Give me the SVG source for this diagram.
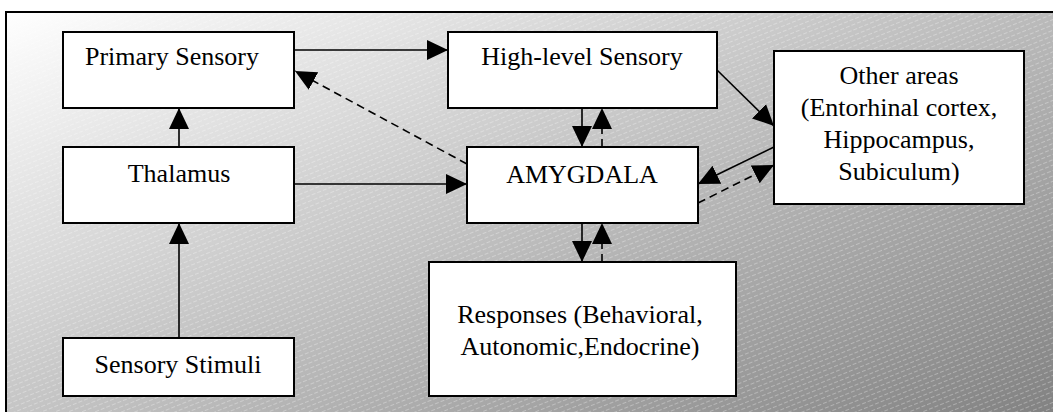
<svg xmlns="http://www.w3.org/2000/svg" width="1053" height="412" viewBox="0 0 1053 412">
  <defs>
    <linearGradient id="bg" gradientUnits="userSpaceOnUse" x1="6" y1="12" x2="339" y2="739">
      <stop offset="0" stop-color="#ffffff"/>
      <stop offset="0.45" stop-color="#c6c6c6"/>
      <stop offset="1" stop-color="#828282"/>
    </linearGradient>
    <pattern id="stripes" patternUnits="userSpaceOnUse" width="12" height="5" patternTransform="rotate(-22)">
      <line x1="0" y1="2.5" x2="12" y2="2.5" stroke="#ffffff" stroke-opacity="0.3" stroke-width="1" stroke-dasharray="4 2"/>
    </pattern>
    <marker id="arr" markerUnits="userSpaceOnUse" markerWidth="24" markerHeight="24" refX="21" refY="11" orient="auto" viewBox="0 0 24 24">
      <path d="M0,1 L21,11 L0,21 Z" fill="#000"/>
    </marker>
    <style>
      .box { fill: #ffffff; stroke: #000000; stroke-width: 2; }
      .lbl { font-family: "Liberation Serif", "Times New Roman", serif; font-size: 26px; fill: #000; text-anchor: middle; }
      .c { fill: none; stroke: #000; stroke-width: 1.6; marker-end: url(#arr); }
      .d { stroke-dasharray: 8 5; }
    </style>
  </defs>

  <g id="background">
    <rect x="6" y="12" width="1060" height="410" fill="url(#bg)"/>
    <rect x="6" y="12" width="1060" height="410" fill="url(#stripes)"/>
    <rect x="6" y="12" width="1060" height="410" fill="none" stroke="#000" stroke-width="2"/>
  </g>

  <g id="connectors">
    <line class="c" x1="179" y1="147" x2="179" y2="108"/>
    <line class="c" x1="179" y1="338" x2="179" y2="223"/>
    <line class="c" x1="294" y1="50" x2="448" y2="50"/>
    <line class="c d" x1="467" y1="164" x2="295" y2="71"/>
    <line class="c" x1="294" y1="184" x2="467" y2="184"/>
    <line class="c" x1="582" y1="108" x2="582" y2="147"/>
    <line class="c d" x1="602" y1="147" x2="602" y2="108"/>
    <line class="c" x1="582" y1="223" x2="582" y2="262"/>
    <line class="c d" x1="602" y1="262" x2="602" y2="223"/>
    <line class="c" x1="717" y1="70" x2="774" y2="126"/>
    <line class="c" x1="774" y1="147" x2="698" y2="184"/>
    <line class="c d" x1="698" y1="203" x2="774" y2="165"/>
  </g>

  <g id="primary-sensory">
    <rect class="box" x="63" y="32" width="231" height="76"/>
    <text class="lbl" x="172" y="65">Primary Sensory</text>
  </g>
  <g id="thalamus">
    <rect class="box" x="63" y="147" width="231" height="76"/>
    <text class="lbl" x="179" y="182">Thalamus</text>
  </g>
  <g id="sensory-stimuli">
    <rect class="box" x="63" y="338" width="231" height="58"/>
    <text class="lbl" x="178" y="373">Sensory Stimuli</text>
  </g>
  <g id="high-level-sensory">
    <rect class="box" x="448" y="32" width="269" height="76"/>
    <text class="lbl" x="582" y="65">High-level Sensory</text>
  </g>
  <g id="amygdala">
    <rect class="box" x="467" y="147" width="231" height="76"/>
    <text class="lbl" x="582" y="183">AMYGDALA</text>
  </g>
  <g id="responses">
    <rect class="box" x="429" y="262" width="307" height="134"/>
    <text class="lbl" x="580" y="323">Responses (Behavioral,</text>
    <text class="lbl" x="580" y="355">Autonomic,Endocrine)</text>
  </g>
  <g id="other-areas">
    <rect class="box" x="774" y="51" width="250" height="153"/>
    <text class="lbl" x="899" y="84">Other areas</text>
    <text class="lbl" x="899" y="116">(Entorhinal cortex,</text>
    <text class="lbl" x="899" y="148">Hippocampus,</text>
    <text class="lbl" x="899" y="180">Subiculum)</text>
  </g>
</svg>
